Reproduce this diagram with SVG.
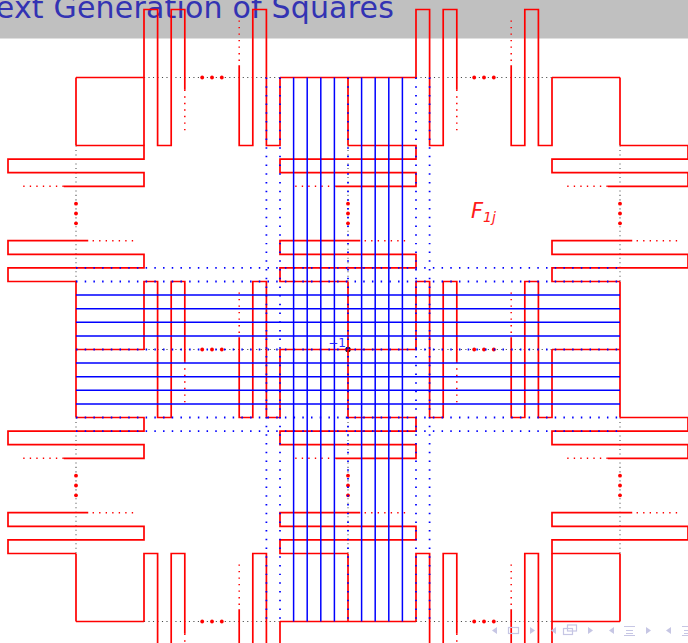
<svg xmlns="http://www.w3.org/2000/svg" width="688" height="643" viewBox="0 0 688 643">
<style>
.r{fill:none;stroke:#ff0000;stroke-width:0.125}
.rd{fill:none;stroke:#ff0000;stroke-width:0.11;stroke-dasharray:0.1 0.38}
.g{fill:none;stroke:#444444;stroke-width:0.075;stroke-dasharray:0.08 0.25}
.b{fill:none;stroke:#0000ff;stroke-width:0.11}
.bd{fill:none;stroke:#0000ff;stroke-width:0.13;stroke-dasharray:0.11 0.53}
.dot{fill:#ff0000}
.nav{fill:#c6c6e4;stroke:none}
.navs{fill:none;stroke:#c6c6e4;stroke-width:1.2}
</style>
<rect x="0" y="0" width="688" height="38.5" fill="#c0c0c0"/>
<text x="-4.2" y="18" font-family="DejaVu Sans, sans-serif" font-size="30" fill="#3333b3" textLength="398" lengthAdjust="spacing">ext Generation of Squares</text>
<g transform="translate(348 349.5) scale(13.6)">
<circle cx="0" cy="0" r="0.2" fill="#000000"/>
<g id="elided-edges">
<path class="g" d="M-15 -20H-5M5 -20H15M-15 0H-5M5 0H15M-15 20H-5M5 20H15M-20 -15V-5M-20 5V15M0 -15V-5M0 5V15M20 -15V-5M20 5V15"/>
</g>
<g id="junctions">
<path class="r" d="M-20 -20H-15M-5 -20H5M15 -20H20M-20 0H-15M-5 0H5M15 0H20M-20 20H-15M-5 20H5M15 20H20M-20 -20V-15M-20 -5V5M-20 15V20M0 -20V-15M0 -5V5M0 15V20M20 -20V-15M20 -5V5M20 15V20M-15 -20V-15M15 15V20"/>
</g>
<g id="comb-top-left">
<path class="r" d="M-15 -20V-25H-14V-15H-13V-25H-12V-19.1M-8 -20.9V-15H-7V-25H-6V-15H-5V-20"/>
<path class="rd" d="M-12 -19.1V-15.8M-8 -24.2V-20.9"/>
</g>
<g id="comb-top-right">
<path class="r" d="M5 -20V-25H6V-15H7V-25H8V-19.1M12 -20.9V-15H13V-25H14V-15H15V-20"/>
<path class="rd" d="M8 -19.1V-15.8M12 -24.2V-20.9"/>
</g>
<g id="comb-mid-left">
<path class="r" d="M-15 0V-5H-14V5H-13V-5H-12V0.9M-8 -0.9V5H-7V-5H-6V5H-5V0"/>
<path class="rd" d="M-12 0.9V4.2M-8 -4.2V-0.9"/>
</g>
<g id="comb-mid-right">
<path class="r" d="M5 0V-5H6V5H7V-5H8V0.9M12 -0.9V5H13V-5H14V5H15V0"/>
<path class="rd" d="M8 0.9V4.2M12 -4.2V-0.9"/>
</g>
<g id="comb-bottom-left">
<path class="r" d="M-15 20V15H-14V25H-13V15H-12V20.9M-8 19.1V25H-7V15H-6V25H-5V20"/>
<path class="rd" d="M-12 20.9V24.2M-8 15.8V19.1"/>
</g>
<g id="comb-bottom-right">
<path class="r" d="M5 20V15H6V25H7V15H8V20.9M12 19.1V25H13V15H14V25H15V20"/>
<path class="rd" d="M8 20.9V24.2M12 15.8V19.1"/>
</g>
<g id="comb-left-top">
<path class="r" d="M-20 -15H-15V-14H-25V-13H-15V-12H-20.9M-19.1 -8H-25V-7H-15V-6H-25V-5H-20"/>
<path class="rd" d="M-20.9 -12H-24.2M-15.8 -8H-19.1"/>
</g>
<g id="comb-left-bottom">
<path class="r" d="M-20 5H-15V6H-25V7H-15V8H-20.9M-19.1 12H-25V13H-15V14H-25V15H-20"/>
<path class="rd" d="M-20.9 8H-24.2M-15.8 12H-19.1"/>
</g>
<g id="comb-center-top">
<path class="r" d="M0 -15H5V-14H-5V-13H5V-12H-0.9M0.9 -8H-5V-7H5V-6H-5V-5H0"/>
<path class="rd" d="M-0.9 -12H-4.2M4.2 -8H0.9"/>
</g>
<g id="comb-center-bottom">
<path class="r" d="M0 5H5V6H-5V7H5V8H-0.9M0.9 12H-5V13H5V14H-5V15H0"/>
<path class="rd" d="M-0.9 8H-4.2M4.2 12H0.9"/>
</g>
<g id="comb-right-top">
<path class="r" d="M20 -15H25V-14H15V-13H25V-12H19.1M20.9 -8H15V-7H25V-6H15V-5H20"/>
<path class="rd" d="M19.1 -12H15.8M24.2 -8H20.9"/>
</g>
<g id="comb-right-bottom">
<path class="r" d="M20 5H25V6H15V7H25V8H19.1M20.9 12H15V13H25V14H15V15H20"/>
<path class="rd" d="M19.1 8H15.8M24.2 12H20.9"/>
</g>
<g id="ellipsis-dots" class="dot">
<circle cx="-10.72" cy="-20" r="0.14"/><circle cx="-10" cy="-20" r="0.14"/><circle cx="-9.28" cy="-20" r="0.14"/>
<circle cx="9.28" cy="-20" r="0.14"/><circle cx="10" cy="-20" r="0.14"/><circle cx="10.72" cy="-20" r="0.14"/>
<circle cx="-10.72" cy="0" r="0.14"/><circle cx="-10" cy="0" r="0.14"/><circle cx="-9.28" cy="0" r="0.14"/>
<circle cx="9.28" cy="0" r="0.14"/><circle cx="10" cy="0" r="0.14"/><circle cx="10.72" cy="0" r="0.14"/>
<circle cx="-10.72" cy="20" r="0.14"/><circle cx="-10" cy="20" r="0.14"/><circle cx="-9.28" cy="20" r="0.14"/>
<circle cx="9.28" cy="20" r="0.14"/><circle cx="10" cy="20" r="0.14"/><circle cx="10.72" cy="20" r="0.14"/>
<circle cy="-10.72" cx="-20" r="0.14"/><circle cy="-10" cx="-20" r="0.14"/><circle cy="-9.28" cx="-20" r="0.14"/>
<circle cy="9.28" cx="-20" r="0.14"/><circle cy="10" cx="-20" r="0.14"/><circle cy="10.72" cx="-20" r="0.14"/>
<circle cy="-10.72" cx="0" r="0.14"/><circle cy="-10" cx="0" r="0.14"/><circle cy="-9.28" cx="0" r="0.14"/>
<circle cy="9.28" cx="0" r="0.14"/><circle cy="10" cx="0" r="0.14"/><circle cy="10.72" cx="0" r="0.14"/>
<circle cy="-10.72" cx="20" r="0.14"/><circle cy="-10" cx="20" r="0.14"/><circle cy="-9.28" cx="20" r="0.14"/>
<circle cy="9.28" cx="20" r="0.14"/><circle cy="10" cx="20" r="0.14"/><circle cy="10.72" cx="20" r="0.14"/>
</g>
<g id="blue-grid">
<path class="b" d="M-4 -20V20M-3 -20V20M-2 -20V20M-1 -20V20M1 -20V20M2 -20V20M3 -20V20M4 -20V20M-20 -4H20M-20 -3H20M-20 -2H20M-20 -1H20M-20 1H20M-20 2H20M-20 3H20M-20 4H20"/>
<path class="bd" d="M-6 -20V20M-5 -20V20M0 -20V20M5 -20V20M6 -20V20M-20 -6H20M-20 -5H20M-20 0H20M-20 5H20M-20 6H20"/>
</g>
</g>
<g id="labels">
<text x="346" y="346.5" text-anchor="end" font-family="DejaVu Sans, sans-serif" font-size="12" fill="#2828ff">−1</text>
<text x="471" y="218" font-family="DejaVu Sans, sans-serif" font-style="italic" font-size="21" fill="#ff1a1a">F<tspan font-size="14" dy="3.5">1j</tspan></text>
</g>
<g id="navigation">
<polygon class="nav" points="492,630.5 497,627 497,634"/>
<rect class="navs" x="508.5" y="627.5" width="10" height="6"/>
<polygon class="nav" points="530,627 535,630.5 530,634"/>
<polygon class="nav" points="551,630.5 556,627 556,634"/>
<rect class="navs" x="563.5" y="628.5" width="9" height="6"/>
<rect class="navs" x="567.5" y="625" width="9" height="6"/>
<polygon class="nav" points="588,627 593,630.5 588,634"/>
<polygon class="nav" points="609,630.5 614,627 614,634"/>
<path class="navs" d="M624 626.5H635M626 630.5H633M626 633.5H633M624 635.5H635"/>
<polygon class="nav" points="646,627 651,630.5 646,634"/>
<polygon class="nav" points="666,630.5 671,627 671,634"/>
<path class="navs" d="M682 626.5H688M684 630.5H688M684 633.5H688M682 635.5H688"/>
</g>
</svg>
